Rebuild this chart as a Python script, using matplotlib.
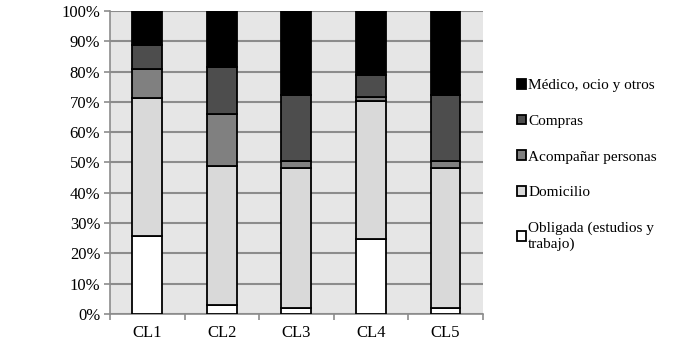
import matplotlib.pyplot as plt
import numpy as np

plt.rcParams['font.family'] = ['Liberation Serif', 'DejaVu Serif']

clusters = ["CL1", "CL2", "CL3", "CL4", "CL5"]
obligada = [25.7, 2.9, 1.9, 24.6, 1.9]
domicilio = [45.6, 45.9, 46.4, 45.7, 46.4]
acompanar = [9.4, 17.3, 2.2, 1.4, 2.2]
compras = [8.2, 15.5, 21.8, 7.3, 21.8]
medico = [11.1, 18.4, 27.7, 21.0, 27.7]

series = [
    ("Obligada (estudios y\ntrabajo)", obligada, "#ffffff"),
    ("Domicilio", domicilio, "#d9d9d9"),
    ("Acompañar personas", acompanar, "#808080"),
    ("Compras", compras, "#4d4d4d"),
    ("Médico, ocio y otros", medico, "#000000"),
]

fig = plt.figure(figsize=(6.79, 3.42), dpi=100)
ax = fig.add_axes([0.162, 0.082, 0.549, 0.886])
ax.set_facecolor("#e6e6e6")

x = np.arange(len(clusters))
bottom = np.zeros(len(clusters))
handles = []
for label, vals, color in series:
    b = ax.bar(x, vals, 0.4, bottom=bottom, color=color, edgecolor="black",
               linewidth=1.3, label=label, zorder=3)
    handles.append(b)
    bottom += np.array(vals)

ax.set_ylim(0, 100)
ax.set_xlim(-0.5, len(clusters) - 0.5)
ax.set_yticks(np.arange(0, 101, 10))
ax.set_yticklabels([f"{v}%" for v in range(0, 101, 10)], fontsize=12)
ax.set_xticks(x)
ax.set_xticklabels(clusters, fontsize=12)
ax.tick_params(axis="x", length=0, pad=8)
ax.set_xticks(np.arange(-0.5, len(clusters)), minor=True)
ax.tick_params(axis="x", which="minor", length=4, color="#8c8c8c", width=1.2)
ax.tick_params(axis="y", length=4, color="#8c8c8c", width=1.2, pad=3)
ax.grid(axis="y", color="#8c8c8c", linewidth=1.5, zorder=0)
ax.set_axisbelow(True)
for s in ["top", "right"]:
    ax.spines[s].set_visible(False)
for s in ["left", "bottom"]:
    ax.spines[s].set_color("#8c8c8c")
    ax.spines[s].set_linewidth(1.2)

fig.legend(handles[::-1], [s[0] for s in series][::-1], loc="upper left",
           bbox_to_anchor=(0.752, 0.787), frameon=False, fontsize=11,
           handlelength=0.6, handleheight=0.6, handletextpad=0.15,
           labelspacing=1.47, borderaxespad=0)

fig.savefig("out.png", dpi=100)
